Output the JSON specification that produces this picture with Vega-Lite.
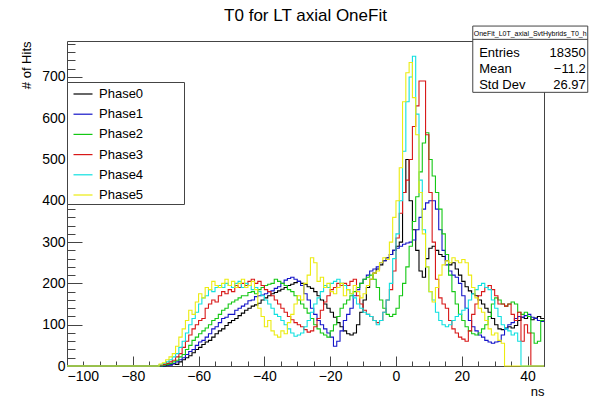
{
"$schema": "https://vega.github.io/schema/vega-lite/v6.json",
"width": 477, "height": 325,
"autosize": {"type": "none"},
"padding": {"left": 67, "top": 41, "right": 50, "bottom": 33},
"background": "white",
"config": {"font": "Liberation Sans", "view": {"stroke": "#444", "strokeWidth": 1}},
"title": {"text": "T0 for LT axial OneFit", "fontSize": 17, "font": "Liberation Sans", "fontWeight": "normal", "color": "#000", "offset": 1, "anchor": "middle"},
"datasets": {"hist": [
{"t":-100,"Phase0":0,"Phase1":0,"Phase2":0,"Phase3":0,"Phase4":0,"Phase5":0},
{"t":-73,"Phase0":0,"Phase1":0,"Phase2":0,"Phase3":0,"Phase4":0,"Phase5":0},
{"t":-72,"Phase0":0,"Phase1":0,"Phase2":0,"Phase3":2,"Phase4":3,"Phase5":5},
{"t":-71,"Phase0":0,"Phase1":0,"Phase2":2,"Phase3":4,"Phase4":6,"Phase5":8},
{"t":-70,"Phase0":2,"Phase1":3,"Phase2":4,"Phase3":6,"Phase4":10,"Phase5":15},
{"t":-69,"Phase0":3,"Phase1":2,"Phase2":6,"Phase3":10,"Phase4":15,"Phase5":22},
{"t":-68,"Phase0":5,"Phase1":6,"Phase2":10,"Phase3":14,"Phase4":22,"Phase5":30},
{"t":-67,"Phase0":4,"Phase1":10,"Phase2":14,"Phase3":22,"Phase4":30,"Phase5":48},
{"t":-66,"Phase0":10,"Phase1":15,"Phase2":22,"Phase3":30,"Phase4":45,"Phase5":70},
{"t":-65,"Phase0":15,"Phase1":20,"Phase2":28,"Phase3":45,"Phase4":60,"Phase5":90},
{"t":-64,"Phase0":20,"Phase1":28,"Phase2":40,"Phase3":60,"Phase4":80,"Phase5":110},
{"t":-63,"Phase0":25,"Phase1":35,"Phase2":50,"Phase3":75,"Phase4":100,"Phase5":135},
{"t":-62,"Phase0":32,"Phase1":40,"Phase2":62,"Phase3":90,"Phase4":115,"Phase5":125},
{"t":-61,"Phase0":40,"Phase1":50,"Phase2":70,"Phase3":100,"Phase4":130,"Phase5":155},
{"t":-60,"Phase0":45,"Phase1":58,"Phase2":78,"Phase3":110,"Phase4":150,"Phase5":175},
{"t":-59,"Phase0":52,"Phase1":62,"Phase2":85,"Phase3":115,"Phase4":165,"Phase5":165},
{"t":-58,"Phase0":58,"Phase1":70,"Phase2":92,"Phase3":140,"Phase4":170,"Phase5":190},
{"t":-57,"Phase0":62,"Phase1":78,"Phase2":100,"Phase3":150,"Phase4":185,"Phase5":185},
{"t":-56,"Phase0":70,"Phase1":90,"Phase2":110,"Phase3":160,"Phase4":180,"Phase5":205},
{"t":-55,"Phase0":78,"Phase1":95,"Phase2":115,"Phase3":155,"Phase4":190,"Phase5":195},
{"t":-54,"Phase0":85,"Phase1":105,"Phase2":125,"Phase3":170,"Phase4":195,"Phase5":190},
{"t":-53,"Phase0":90,"Phase1":115,"Phase2":135,"Phase3":180,"Phase4":190,"Phase5":200},
{"t":-52,"Phase0":98,"Phase1":118,"Phase2":140,"Phase3":175,"Phase4":200,"Phase5":210},
{"t":-51,"Phase0":105,"Phase1":125,"Phase2":150,"Phase3":185,"Phase4":195,"Phase5":195},
{"t":-50,"Phase0":110,"Phase1":125,"Phase2":155,"Phase3":180,"Phase4":190,"Phase5":205},
{"t":-49,"Phase0":115,"Phase1":135,"Phase2":160,"Phase3":195,"Phase4":200,"Phase5":190},
{"t":-48,"Phase0":122,"Phase1":140,"Phase2":165,"Phase3":190,"Phase4":205,"Phase5":200},
{"t":-47,"Phase0":128,"Phase1":145,"Phase2":170,"Phase3":200,"Phase4":190,"Phase5":210},
{"t":-46,"Phase0":135,"Phase1":150,"Phase2":170,"Phase3":195,"Phase4":200,"Phase5":190},
{"t":-45,"Phase0":140,"Phase1":158,"Phase2":178,"Phase3":205,"Phase4":195,"Phase5":195},
{"t":-44,"Phase0":145,"Phase1":160,"Phase2":180,"Phase3":210,"Phase4":185,"Phase5":205},
{"t":-43,"Phase0":148,"Phase1":168,"Phase2":175,"Phase3":200,"Phase4":190,"Phase5":185},
{"t":-42,"Phase0":152,"Phase1":170,"Phase2":185,"Phase3":205,"Phase4":180,"Phase5":140},
{"t":-41,"Phase0":160,"Phase1":172,"Phase2":190,"Phase3":195,"Phase4":170,"Phase5":120},
{"t":-40,"Phase0":165,"Phase1":175,"Phase2":195,"Phase3":185,"Phase4":160,"Phase5":95},
{"t":-39,"Phase0":170,"Phase1":180,"Phase2":198,"Phase3":180,"Phase4":150,"Phase5":110},
{"t":-38,"Phase0":175,"Phase1":182,"Phase2":200,"Phase3":170,"Phase4":140,"Phase5":85},
{"t":-37,"Phase0":178,"Phase1":188,"Phase2":210,"Phase3":160,"Phase4":125,"Phase5":75},
{"t":-36,"Phase0":182,"Phase1":192,"Phase2":205,"Phase3":150,"Phase4":120,"Phase5":70},
{"t":-35,"Phase0":186,"Phase1":200,"Phase2":200,"Phase3":140,"Phase4":110,"Phase5":85},
{"t":-34,"Phase0":190,"Phase1":208,"Phase2":195,"Phase3":130,"Phase4":100,"Phase5":78},
{"t":-33,"Phase0":195,"Phase1":212,"Phase2":185,"Phase3":120,"Phase4":90,"Phase5":105},
{"t":-32,"Phase0":198,"Phase1":215,"Phase2":180,"Phase3":112,"Phase4":80,"Phase5":125},
{"t":-31,"Phase0":202,"Phase1":210,"Phase2":170,"Phase3":105,"Phase4":72,"Phase5":150},
{"t":-30,"Phase0":205,"Phase1":205,"Phase2":160,"Phase3":100,"Phase4":75,"Phase5":170},
{"t":-29,"Phase0":200,"Phase1":195,"Phase2":150,"Phase3":95,"Phase4":80,"Phase5":160},
{"t":-28,"Phase0":198,"Phase1":175,"Phase2":140,"Phase3":88,"Phase4":95,"Phase5":200},
{"t":-27,"Phase0":192,"Phase1":160,"Phase2":128,"Phase3":82,"Phase4":110,"Phase5":220},
{"t":-26,"Phase0":188,"Phase1":140,"Phase2":115,"Phase3":85,"Phase4":130,"Phase5":262},
{"t":-25,"Phase0":180,"Phase1":125,"Phase2":100,"Phase3":95,"Phase4":150,"Phase5":250},
{"t":-24,"Phase0":170,"Phase1":110,"Phase2":90,"Phase3":115,"Phase4":165,"Phase5":205},
{"t":-23,"Phase0":160,"Phase1":100,"Phase2":80,"Phase3":135,"Phase4":180,"Phase5":215},
{"t":-22,"Phase0":150,"Phase1":90,"Phase2":75,"Phase3":155,"Phase4":195,"Phase5":190},
{"t":-21,"Phase0":140,"Phase1":80,"Phase2":70,"Phase3":170,"Phase4":190,"Phase5":200},
{"t":-20,"Phase0":130,"Phase1":70,"Phase2":85,"Phase3":185,"Phase4":200,"Phase5":180},
{"t":-19,"Phase0":118,"Phase1":48,"Phase2":100,"Phase3":190,"Phase4":205,"Phase5":175},
{"t":-18,"Phase0":105,"Phase1":60,"Phase2":120,"Phase3":200,"Phase4":210,"Phase5":190},
{"t":-17,"Phase0":95,"Phase1":85,"Phase2":140,"Phase3":195,"Phase4":200,"Phase5":200},
{"t":-16,"Phase0":85,"Phase1":110,"Phase2":150,"Phase3":200,"Phase4":195,"Phase5":170},
{"t":-15,"Phase0":78,"Phase1":125,"Phase2":160,"Phase3":195,"Phase4":185,"Phase5":185},
{"t":-14,"Phase0":75,"Phase1":140,"Phase2":170,"Phase3":205,"Phase4":175,"Phase5":175},
{"t":-13,"Phase0":80,"Phase1":170,"Phase2":180,"Phase3":210,"Phase4":165,"Phase5":195},
{"t":-12,"Phase0":100,"Phase1":185,"Phase2":190,"Phase3":170,"Phase4":150,"Phase5":180},
{"t":-11,"Phase0":130,"Phase1":200,"Phase2":200,"Phase3":150,"Phase4":140,"Phase5":165},
{"t":-10,"Phase0":160,"Phase1":210,"Phase2":210,"Phase3":135,"Phase4":130,"Phase5":175},
{"t":-9,"Phase0":190,"Phase1":220,"Phase2":215,"Phase3":125,"Phase4":125,"Phase5":195},
{"t":-8,"Phase0":210,"Phase1":230,"Phase2":220,"Phase3":120,"Phase4":120,"Phase5":210},
{"t":-7,"Phase0":225,"Phase1":235,"Phase2":210,"Phase3":110,"Phase4":110,"Phase5":225},
{"t":-6,"Phase0":235,"Phase1":240,"Phase2":190,"Phase3":105,"Phase4":100,"Phase5":230},
{"t":-5,"Phase0":245,"Phase1":250,"Phase2":160,"Phase3":110,"Phase4":110,"Phase5":250},
{"t":-4,"Phase0":255,"Phase1":255,"Phase2":140,"Phase3":130,"Phase4":130,"Phase5":262},
{"t":-3,"Phase0":262,"Phase1":262,"Phase2":125,"Phase3":160,"Phase4":160,"Phase5":258},
{"t":-2,"Phase0":270,"Phase1":270,"Phase2":120,"Phase3":185,"Phase4":200,"Phase5":300},
{"t":-1,"Phase0":280,"Phase1":280,"Phase2":125,"Phase3":230,"Phase4":260,"Phase5":360},
{"t":0,"Phase0":290,"Phase1":285,"Phase2":140,"Phase3":310,"Phase4":320,"Phase5":400},
{"t":1,"Phase0":300,"Phase1":290,"Phase2":170,"Phase3":370,"Phase4":400,"Phase5":480},
{"t":2,"Phase0":420,"Phase1":295,"Phase2":200,"Phase3":420,"Phase4":520,"Phase5":640},
{"t":3,"Phase0":500,"Phase1":298,"Phase2":240,"Phase3":450,"Phase4":640,"Phase5":710},
{"t":4,"Phase0":400,"Phase1":300,"Phase2":290,"Phase3":500,"Phase4":700,"Phase5":735},
{"t":5,"Phase0":330,"Phase1":305,"Phase2":350,"Phase3":580,"Phase4":750,"Phase5":650},
{"t":6,"Phase0":280,"Phase1":330,"Phase2":410,"Phase3":630,"Phase4":610,"Phase5":560},
{"t":7,"Phase0":230,"Phase1":360,"Phase2":470,"Phase3":690,"Phase4":450,"Phase5":420},
{"t":8,"Phase0":215,"Phase1":380,"Phase2":540,"Phase3":690,"Phase4":330,"Phase5":320},
{"t":9,"Phase0":260,"Phase1":395,"Phase2":565,"Phase3":560,"Phase4":240,"Phase5":240},
{"t":10,"Phase0":285,"Phase1":400,"Phase2":500,"Phase3":420,"Phase4":180,"Phase5":180},
{"t":11,"Phase0":290,"Phase1":400,"Phase2":460,"Phase3":300,"Phase4":160,"Phase5":155},
{"t":12,"Phase0":280,"Phase1":380,"Phase2":420,"Phase3":210,"Phase4":130,"Phase5":190},
{"t":13,"Phase0":270,"Phase1":330,"Phase2":380,"Phase3":165,"Phase4":110,"Phase5":220},
{"t":14,"Phase0":265,"Phase1":280,"Phase2":320,"Phase3":150,"Phase4":100,"Phase5":245},
{"t":15,"Phase0":255,"Phase1":245,"Phase2":270,"Phase3":140,"Phase4":95,"Phase5":255},
{"t":16,"Phase0":245,"Phase1":230,"Phase2":220,"Phase3":110,"Phase4":100,"Phase5":250},
{"t":17,"Phase0":250,"Phase1":220,"Phase2":180,"Phase3":90,"Phase4":110,"Phase5":262},
{"t":18,"Phase0":235,"Phase1":215,"Phase2":150,"Phase3":80,"Phase4":120,"Phase5":255},
{"t":19,"Phase0":220,"Phase1":200,"Phase2":125,"Phase3":70,"Phase4":125,"Phase5":250},
{"t":20,"Phase0":205,"Phase1":170,"Phase2":110,"Phase3":65,"Phase4":135,"Phase5":258},
{"t":21,"Phase0":192,"Phase1":140,"Phase2":95,"Phase3":60,"Phase4":140,"Phase5":250},
{"t":22,"Phase0":182,"Phase1":110,"Phase2":85,"Phase3":85,"Phase4":160,"Phase5":220},
{"t":23,"Phase0":175,"Phase1":95,"Phase2":78,"Phase3":125,"Phase4":175,"Phase5":190},
{"t":24,"Phase0":170,"Phase1":85,"Phase2":75,"Phase3":150,"Phase4":185,"Phase5":165},
{"t":25,"Phase0":160,"Phase1":75,"Phase2":80,"Phase3":170,"Phase4":195,"Phase5":140},
{"t":26,"Phase0":150,"Phase1":70,"Phase2":90,"Phase3":180,"Phase4":200,"Phase5":130},
{"t":27,"Phase0":140,"Phase1":62,"Phase2":100,"Phase3":190,"Phase4":190,"Phase5":110},
{"t":28,"Phase0":130,"Phase1":58,"Phase2":120,"Phase3":195,"Phase4":185,"Phase5":90},
{"t":29,"Phase0":115,"Phase1":55,"Phase2":150,"Phase3":185,"Phase4":160,"Phase5":75},
{"t":30,"Phase0":100,"Phase1":58,"Phase2":165,"Phase3":170,"Phase4":140,"Phase5":80},
{"t":31,"Phase0":90,"Phase1":60,"Phase2":160,"Phase3":150,"Phase4":120,"Phase5":62},
{"t":32,"Phase0":88,"Phase1":75,"Phase2":150,"Phase3":150,"Phase4":100,"Phase5":55},
{"t":33,"Phase0":92,"Phase1":90,"Phase2":145,"Phase3":145,"Phase4":90,"Phase5":0},
{"t":34,"Phase0":95,"Phase1":100,"Phase2":150,"Phase3":150,"Phase4":85,"Phase5":0},
{"t":35,"Phase0":92,"Phase1":105,"Phase2":155,"Phase3":125,"Phase4":75,"Phase5":0},
{"t":36,"Phase0":98,"Phase1":115,"Phase2":150,"Phase3":110,"Phase4":80,"Phase5":0},
{"t":37,"Phase0":110,"Phase1":120,"Phase2":130,"Phase3":130,"Phase4":60,"Phase5":0},
{"t":38,"Phase0":118,"Phase1":118,"Phase2":125,"Phase3":60,"Phase4":0,"Phase5":0},
{"t":39,"Phase0":115,"Phase1":122,"Phase2":130,"Phase3":100,"Phase4":0,"Phase5":0},
{"t":40,"Phase0":120,"Phase1":125,"Phase2":120,"Phase3":80,"Phase4":0,"Phase5":0},
{"t":41,"Phase0":112,"Phase1":118,"Phase2":80,"Phase3":0,"Phase4":0,"Phase5":0},
{"t":42,"Phase0":116,"Phase1":115,"Phase2":55,"Phase3":0,"Phase4":0,"Phase5":0},
{"t":43,"Phase0":120,"Phase1":110,"Phase2":60,"Phase3":0,"Phase4":0,"Phase5":0},
{"t":44,"Phase0":115,"Phase1":108,"Phase2":110,"Phase3":0,"Phase4":0,"Phase5":0},
{"t":45,"Phase0":115,"Phase1":108,"Phase2":110,"Phase3":0,"Phase4":0,"Phase5":0}
]},
"resolve": {"axis": {"x": "independent", "y": "independent"}},
"layer": [
{
"data": {"name": "hist"},
"transform": [{"fold": ["Phase0","Phase1","Phase2","Phase3","Phase4","Phase5"], "as": ["key","value"]}],
"mark": {"type": "line", "interpolate": "step-after", "strokeWidth": 1.1},
"encoding": {
"x": {"field": "t", "type": "quantitative", "scale": {"domain": [-100,45], "nice": false, "zero": false},
 "axis": {"orient": "bottom", "values": [-100,-80,-60,-40,-20,0,20,40], "tickSize": -10, "tickColor": "#444", "domain": false, "grid": false, "labelFontSize": 14, "labelColor": "#000", "labelPadding": 13, "labelFont": "Liberation Sans", "title": "ns", "titleAnchor": "end", "titleFontSize": 13, "titleFontWeight": "normal", "titleFont": "Liberation Sans", "titleColor": "#000", "titlePadding": 2}},
"y": {"field": "value", "type": "quantitative", "scale": {"domain": [0,787], "nice": false},
 "axis": {"orient": "left", "values": [0,100,200,300,400,500,600,700], "tickSize": -15, "tickColor": "#444", "domain": false, "grid": false, "labelFontSize": 14, "labelColor": "#000", "labelPadding": 17, "labelFont": "Liberation Sans", "title": "# of Hits", "titleAnchor": "end", "titleFontSize": 13, "titleFontWeight": "normal", "titleFont": "Liberation Sans", "titleColor": "#000", "titlePadding": 8}},
"color": {"field": "key", "type": "nominal",
 "scale": {"domain": ["Phase0","Phase1","Phase2","Phase3","Phase4","Phase5"], "range": ["#000000","#1414c8","#14c814","#d81818","#10e0e0","#ecec10"]},
 "legend": {"orient": "none", "legendX": 0, "legendY": 41, "title": "\u2800", "titleOrient": "right", "titlePadding": 33, "titleFontSize": 8, "symbolType": "stroke", "symbolSize": 361, "symbolStrokeWidth": 1.2, "symbolOffset": 4, "labelFont": "Liberation Sans", "labelFontSize": 13, "labelColor": "#000", "strokeColor": "#444", "fillColor": "white", "padding": 1.5, "rowPadding": 2.2, "labelOffset": 5.5}}
}
},
{
"data": {"values": [{}]},
"mark": {"type": "rect", "fill": "white", "stroke": "#444", "strokeWidth": 1},
"encoding": {
"x": {"datum": 23.35, "axis": {"orient": "bottom", "values": [-95,-90,-85,-75,-70,-65,-55,-50,-45,-35,-30,-25,-15,-10,-5,5,10,15,25,30,35,45], "tickSize": -5, "tickColor": "#444", "domain": false, "grid": false, "labels": false, "title": null}},
"x2": {"datum": 58.3},
"y": {"datum": 662.7, "axis": {"orient": "left", "values": [20,40,60,80,120,140,160,180,220,240,260,280,320,340,360,380,420,440,460,480,520,540,560,580,620,640,660,680,720,740,760,780], "tickSize": -8, "tickColor": "#444", "domain": false, "grid": false, "labels": false, "title": null}},
"y2": {"datum": 823.2}
}
},
{
"data": {"values": [{}]},
"mark": {"type": "rule", "stroke": "#444", "strokeWidth": 1},
"encoding": {
"x": {"datum": 23.35, "axis": null},
"x2": {"datum": 58.3},
"y": {"datum": 791, "axis": null}
}
},
{
"data": {"values": [{}]},
"mark": {"type": "text", "align": "center", "baseline": "alphabetic", "fontSize": 7, "font": "Liberation Sans", "color": "#000", "text": "OneFit_L0T_axial_SvtHybrids_T0_h"},
"encoding": {
"x": {"datum": 40.8, "axis": null},
"y": {"datum": 799, "axis": null}
}
},
{
"data": {"values": [{}]},
"mark": {"type": "text", "align": "left", "baseline": "alphabetic", "fontSize": 13, "font": "Liberation Sans", "color": "#000", "lineHeight": 16, "text": ["Entries","Mean","Std Dev"]},
"encoding": {
"x": {"datum": 25.3, "axis": null},
"y": {"datum": 749, "axis": null}
}
},
{
"data": {"values": [{}]},
"mark": {"type": "text", "align": "right", "baseline": "alphabetic", "fontSize": 13, "font": "Liberation Sans", "color": "#000", "lineHeight": 16, "text": ["18350","−11.2","26.97"]},
"encoding": {
"x": {"datum": 57.7, "axis": null},
"y": {"datum": 749, "axis": null}
}
}
]
}
